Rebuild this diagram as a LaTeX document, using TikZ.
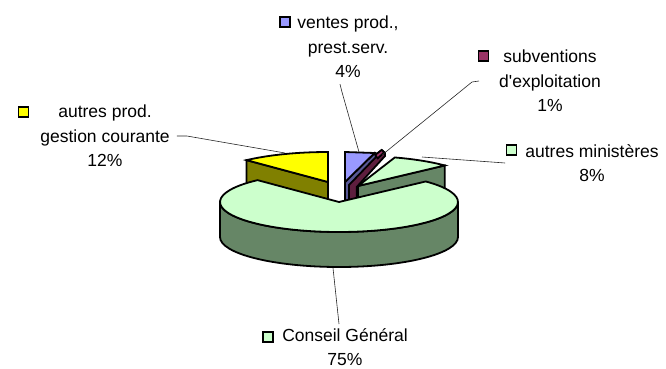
\documentclass[tikz,border=0pt]{standalone}
\usepackage{fontspec}
\setmainfont{Liberation Sans}
\usetikzlibrary{positioning}

\definecolor{cgtop}{RGB}{204,255,204}
\definecolor{cgside}{RGB}{102,134,102}
\definecolor{yltop}{RGB}{255,255,0}
\definecolor{ylside}{RGB}{128,128,0}
\definecolor{bltop}{RGB}{153,153,255}
\definecolor{blside}{RGB}{88,88,150}
\definecolor{mrtop}{RGB}{153,51,102}
\definecolor{mrside}{RGB}{94,30,62}

\begin{document}
\begin{tikzpicture}[x=1pt, y=-1pt,
  face/.style={draw=black, line width=1.8pt, line join=miter},
  lbl/.style={align=center, font=\fontsize{17.5}{24.5}\selectfont, inner sep=0pt},
  key/.style={draw=black, line width=1.5pt, minimum size=10pt, inner sep=0pt},
  leader/.style={draw=black!85, line width=0.6pt},
  rad/.style={x radius=119, y radius=30}]
\useasboundingbox (0,0) rectangle (666,369);

% slice centres
\coordinate (Ccg) at (339,202);
\coordinate (Cyl) at (328,182);
\coordinate (Cam) at (358,186);

% autres prod. gestion courante
\draw[face, fill=ylside] (Cyl) -- ++(0,35) -- ++(-133.2:119 and 30) -- ++(0,-35) -- cycle;
\draw[face, fill=yltop] (Cyl) -- ++(-133.2:119 and 30) arc[start angle=-133.2, end angle=-90, rad] -- cycle;

% autres ministeres
\draw[face, fill=cgside] (Cam) -- ++(0,35) -- ++(-43.2:119 and 30) -- ++(0,-35) -- cycle;
\draw[face, fill=cgtop] (Cam) -- ++(-72:119 and 30) arc[start angle=-72, end angle=-43.2, rad] -- cycle;

% subventions
\draw[face, fill=mrside] (348,184) -- (372,158) -- (381.7,150) -- (385,153) -- (385,156)
  -- (356.7,187) -- (356.7,205) -- (348,205) -- cycle;
\draw[face, fill=mrtop] (375,155) -- (381.7,150) -- (384.3,152.3) -- (377.7,158.3) -- cycle;

% ventes
\draw[face, fill=blside] (345,182) -- (374.6,153) -- (376,157) -- (349,185) -- (349,205) -- (345,205) -- cycle;
\draw[face, fill=bltop] (345,182) -- (345,152) -- (374.6,153) -- cycle;

% Conseil General
\draw[face, fill=cgside] (Ccg) ++(0:119 and 30) arc[start angle=0, end angle=180, rad]
  -- ++(0,35) arc[start angle=180, end angle=0, rad] -- cycle;
\draw[face, fill=cgtop] (Ccg) -- ++(-43.2:119 and 30) arc[start angle=-43.2, end angle=226.8, rad] -- cycle;

% leader ends
\coordinate (tipBl) at (359,152);
\coordinate (tipMr) at (382,155);
\coordinate (tipAm) at (422,157);
\coordinate (tipYl) at (285,153);
\coordinate (tipCg) at (333,268);

% labels
\node[lbl] (lblBl) at (348,47) {ventes prod.,\\prest.serv.\\4\%};
\node[lbl] (lblMr) at (550,81) {subventions\\d\textquotesingle exploitation\\1\%};
\node[lbl] (lblAm) at (592,163) {autres ministères\\8\%};
\node[lbl] (lblYl) at (105,136) {autres prod.\\gestion courante\\12\%};
\node[lbl] (lblCg) at (345,347) {Conseil Général\\75\%};

\foreach \k/\c/\x/\y in {Bl/bltop/285/22, Mr/mrtop/483.5/56, Am/cgtop/511.5/150,
                         Yl/yltop/23.5/112, Cg/cgtop/268/337}
  \node[key, fill=\c] (key\k) at (\x,\y) {};

\draw[leader] ([xshift=-8pt, yshift=-6pt]lblBl.south) -- ++(2,8) -- (tipBl);
\draw[leader] ([xshift=-20pt]lblMr.west) -- ++(-7,1) -- (tipMr);
\draw[leader] ([xshift=-20pt]lblAm.west) -- (tipAm);
\draw[leader] ([xshift=7pt]lblYl.east) -- ++(10,0) -- (tipYl);
\draw[leader] ([xshift=-6pt, yshift=4pt]lblCg.north) -- (tipCg);
\end{tikzpicture}
\end{document}
